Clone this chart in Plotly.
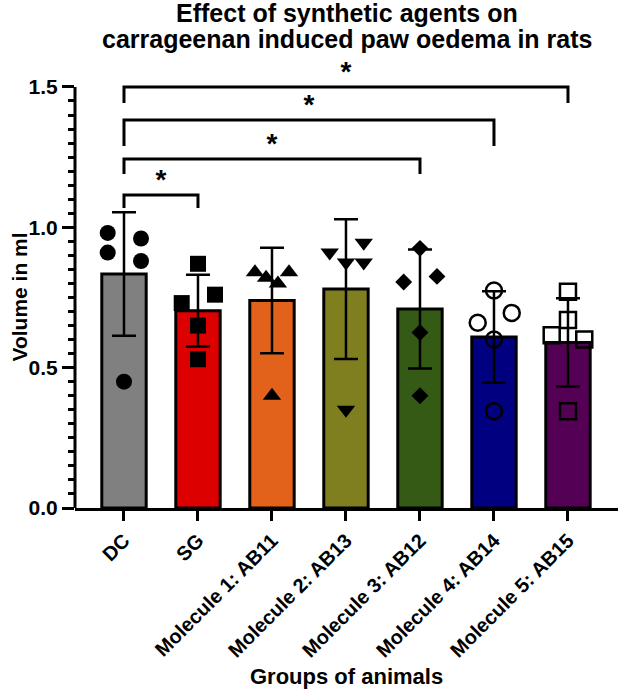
import plotly.graph_objects as go

# ---------------- data ----------------
groups = ["DC", "SG", "Molecule 1: AB11", "Molecule 2: AB13",
          "Molecule 3: AB12", "Molecule 4: AB14", "Molecule 5: AB15"]
means = [0.834, 0.703, 0.739, 0.780, 0.709, 0.609, 0.590]
sds = [0.220, 0.128, 0.188, 0.249, 0.212, 0.163, 0.157]

pts_DC = [0.98, 0.96, 0.91, 0.88, 0.45]
pts_SG = [0.87, 0.73, 0.76, 0.65, 0.53]
pts_AB11 = [0.84, 0.82, 0.80, 0.84, 0.40]
pts_AB13 = [0.91, 0.945, 0.875, 0.875, 0.35]
pts_AB12 = [0.925, 0.805, 0.825, 0.625, 0.40]
pts_AB14 = [0.775, 0.66, 0.695, 0.60, 0.345]
pts_AB15 = [0.77, 0.67, 0.615, 0.60, 0.345]
points = [pts_DC, pts_SG, pts_AB11, pts_AB13, pts_AB12, pts_AB14, pts_AB15]

# significance comparisons (index pairs) and bracket heights
sig_pairs = [(0, 1), (0, 4), (0, 5), (0, 6)]
sig_heights = [1.115, 1.243, 1.382, 1.500]
sig_labels = ["*", "*", "*", "*"]

y_ticks = [0.0, 0.5, 1.0, 1.5]
y_ticktext = ["0.0", "0.5", "1.0", "1.5"]

# ---------------- styles ----------------
colors = ["#808080", "#DC0000", "#E2621B", "#7F7F20", "#345A15", "#000080", "#540054"]
symbols = ["circle", "square", "triangle-up", "triangle-down", "diamond",
           "circle-open", "square-open"]
sizes = [16, 16, 16, 16, 13, 16, 16]
jitter = [
    [-0.22, 0.23, -0.22, 0.23, 0.0],
    [0.0, -0.22, 0.23, 0.0, 0.0],
    [-0.23, -0.08, 0.08, 0.23, 0.0],
    [-0.22, 0.24, 0.0, 0.24, 0.0],
    [0.0, -0.22, 0.23, 0.0, 0.0],
    [0.0, -0.22, 0.24, 0.0, 0.0],
    [0.0, 0.0, -0.22, 0.22, 0.0],
]
leg_len = [0.046, 0.053, 0.092, 0.057]

FONT = "Liberation Sans, Arial, sans-serif"
pos = list(range(len(groups)))

fig = go.Figure()

fig.add_trace(go.Bar(
    x=pos, y=means, width=0.6,
    marker=dict(color=colors, line=dict(color="black", width=3)),
    error_y=dict(type="data", array=sds, visible=True, color="black",
                 thickness=2.5, width=12),
    showlegend=False, hoverinfo="skip",
))

for i, vals in enumerate(points):
    open_m = symbols[i].endswith("open")
    fig.add_trace(go.Scatter(
        x=[pos[i] + j for j in jitter[i]], y=vals, mode="markers",
        marker=dict(symbol=symbols[i], size=sizes[i], color="black",
                    line=dict(color="black", width=2.5 if open_m else 0)),
        showlegend=False, cliponaxis=False, hoverinfo="skip",
    ))

for (a, b), h, lg, lab in zip(sig_pairs, sig_heights, leg_len, sig_labels):
    fig.add_trace(go.Scatter(
        x=[pos[a], pos[a], pos[b], pos[b]], y=[h - lg, h, h, h - lg],
        mode="lines", line=dict(color="black", width=3),
        showlegend=False, hoverinfo="skip",
    ))
    fig.add_trace(go.Scatter(
        x=[(pos[a] + pos[b]) / 2], y=[h + 0.045], mode="text", text=[lab],
        textposition="middle center",
        textfont=dict(family=FONT, size=28, color="black", weight="bold"),
        showlegend=False, cliponaxis=False, hoverinfo="skip",
    ))

# y axis line only up to 1.5
fig.add_shape(type="line", xref="paper", yref="y", x0=0, x1=0, y0=0, y1=1.5,
              line=dict(color="black", width=3))

minor_vals = [round(k * 0.05, 2) for k in range(31) if k % 10 != 0]

fig.update_layout(
    width=621, height=691,
    margin=dict(l=75, r=3, t=60, b=183),
    plot_bgcolor="white", paper_bgcolor="white",
    font=dict(family=FONT, color="black"),
    xaxis=dict(range=[-0.662, 6.676], tickmode="array", tickvals=pos,
               ticktext=groups, tickangle=-45, showline=True, linecolor="black",
               linewidth=3, ticks="outside", ticklen=10, tickwidth=3,
               tickcolor="black", showgrid=False, zeroline=False,
               tickfont=dict(family=FONT, size=20, color="black", weight="bold")),
    yaxis=dict(range=[0, 1.596], tickmode="array", tickvals=y_ticks,
               ticktext=y_ticktext, showline=False, ticks="outside", ticklen=12,
               tickwidth=3, tickcolor="black", showgrid=False, zeroline=False,
               tickfont=dict(family=FONT, size=21, color="black", weight="bold"),
               minor=dict(tickmode="array", tickvals=minor_vals, ticks="outside",
                          ticklen=6, tickwidth=2.5, tickcolor="black", showgrid=False)),
    annotations=[
        dict(text="Effect of synthetic agents on", xref="paper", yref="paper",
             x=0.5, y=1.104, xanchor="center", yanchor="middle", showarrow=False,
             font=dict(family=FONT, size=25, color="black", weight="bold")),
        dict(text="carrageenan induced paw oedema in rats", xref="paper", yref="paper",
             x=0.5, y=1.047, xanchor="center", yanchor="middle", showarrow=False,
             font=dict(family=FONT, size=25, color="black", weight="bold")),
        dict(text="Volume in ml", xref="paper", yref="y", x=-0.103, y=0.75,
             xanchor="center", yanchor="middle", textangle=-90, showarrow=False,
             font=dict(family=FONT, size=21, color="black", weight="bold")),
        dict(text="Groups of animals", xref="paper", yref="paper", x=0.5, y=-0.375,
             xanchor="center", yanchor="middle", showarrow=False,
             font=dict(family=FONT, size=22, color="black", weight="bold")),
    ],
)

fig.write_html("out.html")
